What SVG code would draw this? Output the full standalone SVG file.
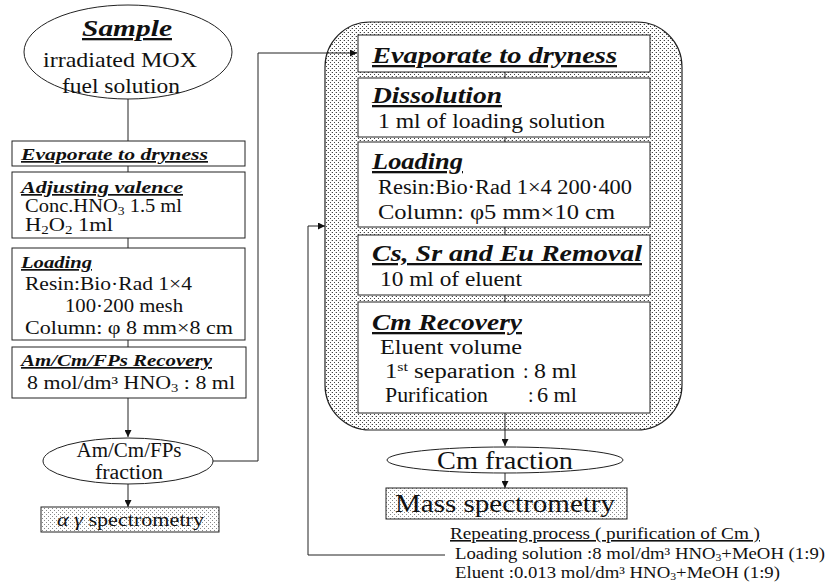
<svg xmlns="http://www.w3.org/2000/svg" width="828" height="588" viewBox="0 0 828 588">
<defs>
<style>
.t{font-family:"Liberation Serif","Times New Roman",serif;fill:#111}
.b{font-size:18px}
.rb{font-size:20px}
.h{font-weight:bold;font-style:italic;text-decoration:underline}
.box{fill:#fff;stroke:#222;stroke-width:1}
.ln{fill:none;stroke:#222;stroke-width:1}
.sub{font-size:12px}
</style>
<pattern id="dots" width="4" height="4" patternUnits="userSpaceOnUse">
<rect width="4" height="4" fill="#fff"/>
<rect x="0" y="0" width="1" height="1" fill="#444"/>
<rect x="2" y="2" width="1" height="1" fill="#444"/>
<rect x="3" y="0" width="1" height="1" fill="#ccc"/>
</pattern>
<pattern id="ldots" width="4" height="4" patternUnits="userSpaceOnUse">
<rect width="4" height="4" fill="#fff"/>
<rect x="0" y="0" width="1" height="1" fill="#888"/>
<rect x="2" y="2" width="1" height="1" fill="#888"/>
</pattern>
<marker id="arr" viewBox="0 0 10 10" refX="10" refY="5" markerWidth="7" markerHeight="7" orient="auto" markerUnits="userSpaceOnUse">
<path d="M0,0 L10,5 L0,10 z" fill="#111"/>
</marker>
</defs>
<rect width="828" height="588" fill="#fff"/>

<g id="group-purification">
<rect x="325" y="22" width="357" height="408" rx="45" ry="45" fill="url(#dots)" stroke="#222" stroke-width="1.2"/>
</g>

<g id="connectors">
<line class="ln" x1="128" y1="99" x2="128" y2="141"/>
<line class="ln" x1="128" y1="166" x2="128" y2="172"/>
<line class="ln" x1="128" y1="238" x2="128" y2="248"/>
<line class="ln" x1="128" y1="340" x2="128" y2="347"/>
<line class="ln" x1="128" y1="398" x2="128" y2="437" marker-end="url(#arr)"/>
<line class="ln" x1="128" y1="484" x2="128" y2="507" marker-end="url(#arr)"/>
<polyline class="ln" points="213,461 258,461 258,53 357,53" marker-end="url(#arr)"/>
<line class="ln" x1="505" y1="72" x2="505" y2="78"/>
<line class="ln" x1="505" y1="137" x2="505" y2="142"/>
<line class="ln" x1="505" y1="227" x2="505" y2="235"/>
<line class="ln" x1="505" y1="295" x2="505" y2="302"/>
<line class="ln" x1="505" y1="413" x2="505" y2="446" marker-end="url(#arr)"/>
<line class="ln" x1="505" y1="473" x2="505" y2="488" marker-end="url(#arr)"/>
<polyline class="ln" points="445,555 308,555 308,226 325,226" marker-end="url(#arr)"/>
</g>

<g id="sample">
<ellipse cx="128" cy="52" rx="104" ry="47" class="box"/>
<text class="t h" x="127" y="36" font-size="23" text-anchor="middle" textLength="90" lengthAdjust="spacingAndGlyphs">Sample</text>
<text class="t" x="120" y="67" font-size="21" text-anchor="middle" textLength="154" lengthAdjust="spacingAndGlyphs">irradiated MOX</text>
<text class="t" x="121" y="93" font-size="21" text-anchor="middle" textLength="118" lengthAdjust="spacingAndGlyphs">fuel solution</text>
</g>

<g id="l-evaporate">
<rect class="box" x="12" y="141" width="233" height="25"/>
<text class="t h" x="21" y="160" font-size="17" textLength="187" lengthAdjust="spacingAndGlyphs">Evaporate to dryness</text>
</g>

<g id="l-adjusting">
<rect class="box" x="12" y="172" width="233" height="66"/>
<text class="t h" x="21" y="193" font-size="17" textLength="162" lengthAdjust="spacingAndGlyphs">Adjusting  valence</text>
<text class="t b" x="25" y="212" textLength="157" lengthAdjust="spacingAndGlyphs">Conc.HNO<tspan class="sub" dy="3">3</tspan><tspan dy="-3"> 1.5 ml</tspan></text>
<text class="t b" x="25" y="231" textLength="88" lengthAdjust="spacingAndGlyphs">H<tspan class="sub" dy="3">2</tspan><tspan dy="-3">O</tspan><tspan class="sub" dy="3">2</tspan><tspan dy="-3"> 1ml</tspan></text>
</g>

<g id="l-loading">
<rect class="box" x="12" y="248" width="233" height="92"/>
<text class="t h" x="21" y="268" font-size="17" textLength="71" lengthAdjust="spacingAndGlyphs">Loading</text>
<text class="t b" x="25" y="290" textLength="167" lengthAdjust="spacingAndGlyphs">Resin:Bio·Rad 1×4</text>
<text class="t b" x="65" y="312" textLength="118" lengthAdjust="spacingAndGlyphs">100·200 mesh</text>
<text class="t b" x="25" y="334" textLength="208" lengthAdjust="spacingAndGlyphs">Column: φ 8 mm×8 cm</text>
</g>

<g id="l-recovery">
<rect class="box" x="12" y="347" width="234" height="51"/>
<text class="t h" x="21" y="366" font-size="17" textLength="191" lengthAdjust="spacingAndGlyphs">Am/Cm/FPs Recovery</text>
<text class="t b" x="27" y="389" textLength="208" lengthAdjust="spacingAndGlyphs">8 mol/dm³ HNO<tspan class="sub" dy="3">3</tspan><tspan dy="-3"> : 8 ml</tspan></text>
</g>

<g id="amcm-fraction">
<ellipse cx="128" cy="461" rx="85" ry="23" class="box"/>
<text class="t" x="129" y="457" font-size="20" text-anchor="middle" textLength="105" lengthAdjust="spacingAndGlyphs">Am/Cm/FPs</text>
<text class="t" x="129" y="479" font-size="20" text-anchor="middle" textLength="68" lengthAdjust="spacingAndGlyphs">fraction</text>
</g>

<g id="alpha-gamma">
<rect x="41" y="507" width="178" height="25" fill="url(#ldots)" stroke="#222" stroke-width="1"/>
<text class="t b" x="57" y="526" textLength="147" lengthAdjust="spacingAndGlyphs"><tspan font-style="italic">α γ</tspan> spectrometry</text>
</g>

<g id="r-evaporate">
<rect class="box" x="358" y="35" width="292" height="37"/>
<text class="t h" x="372" y="63" font-size="23" textLength="245" lengthAdjust="spacingAndGlyphs">Evaporate to dryness</text>
</g>

<g id="r-dissolution">
<rect class="box" x="358" y="78" width="292" height="59"/>
<text class="t h" x="372" y="103" font-size="23" textLength="130" lengthAdjust="spacingAndGlyphs">Dissolution</text>
<text class="t rb" x="378" y="128" textLength="227" lengthAdjust="spacingAndGlyphs">1 ml of loading solution</text>
</g>

<g id="r-loading">
<rect class="box" x="358" y="142" width="292" height="85"/>
<text class="t h" x="372" y="169" font-size="23" textLength="91" lengthAdjust="spacingAndGlyphs">Loading</text>
<text class="t rb" x="378" y="194" textLength="254" lengthAdjust="spacingAndGlyphs">Resin:Bio·Rad 1×4 200·400</text>
<text class="t rb" x="378" y="219" textLength="237" lengthAdjust="spacingAndGlyphs">Column: φ5 mm×10 cm</text>
</g>

<g id="r-removal">
<rect class="box" x="358" y="235" width="292" height="60"/>
<text class="t h" x="372" y="261" font-size="23" textLength="270" lengthAdjust="spacingAndGlyphs">Cs, Sr and Eu Removal</text>
<text class="t rb" x="380" y="286" textLength="142" lengthAdjust="spacingAndGlyphs">10 ml of eluent</text>
</g>

<g id="r-cm-recovery">
<rect class="box" x="358" y="302" width="292" height="111"/>
<text class="t h" x="372" y="330" font-size="23" textLength="150" lengthAdjust="spacingAndGlyphs">Cm Recovery</text>
<text class="t rb" x="380" y="354" textLength="142" lengthAdjust="spacingAndGlyphs">Eluent volume</text>
<text class="t rb" x="385" y="378" textLength="130" lengthAdjust="spacingAndGlyphs">1<tspan font-size="13" dy="-7">st</tspan><tspan dy="7"> separation</tspan></text>
<text class="t rb" x="523" y="378">:</text>
<text class="t rb" x="534" y="378" textLength="43" lengthAdjust="spacingAndGlyphs">8 ml</text>
<text class="t rb" x="385" y="402" textLength="103" lengthAdjust="spacingAndGlyphs">Purification</text>
<text class="t rb" x="528" y="402">:</text>
<text class="t rb" x="537" y="402" textLength="40" lengthAdjust="spacingAndGlyphs">6 ml</text>
</g>

<g id="cm-fraction">
<ellipse cx="505" cy="460" rx="118" ry="13" class="box"/>
<text class="t" x="437" y="469" font-size="26" textLength="136" lengthAdjust="spacingAndGlyphs">Cm fraction</text>
</g>

<g id="mass-spec">
<rect x="386" y="488" width="241" height="31" fill="url(#ldots)" stroke="#222" stroke-width="1"/>
<text class="t" x="395" y="512" font-size="26" textLength="220" lengthAdjust="spacingAndGlyphs">Mass spectrometry</text>
</g>

<g id="repeating-note">
<text class="t" x="450" y="539" font-size="16" text-decoration="underline" textLength="310" lengthAdjust="spacingAndGlyphs">Repeating process ( purification of Cm )</text>
<text class="t" x="455" y="559" font-size="16" textLength="370" lengthAdjust="spacingAndGlyphs">Loading solution :8 mol/dm³ HNO<tspan font-size="10" dy="2">3</tspan><tspan dy="-2">+MeOH  (1:9)</tspan></text>
<text class="t" x="455" y="578" font-size="16" textLength="325" lengthAdjust="spacingAndGlyphs">Eluent :0.013 mol/dm³ HNO<tspan font-size="10" dy="2">3</tspan><tspan dy="-2">+MeOH  (1:9)</tspan></text>
</g>
</svg>
